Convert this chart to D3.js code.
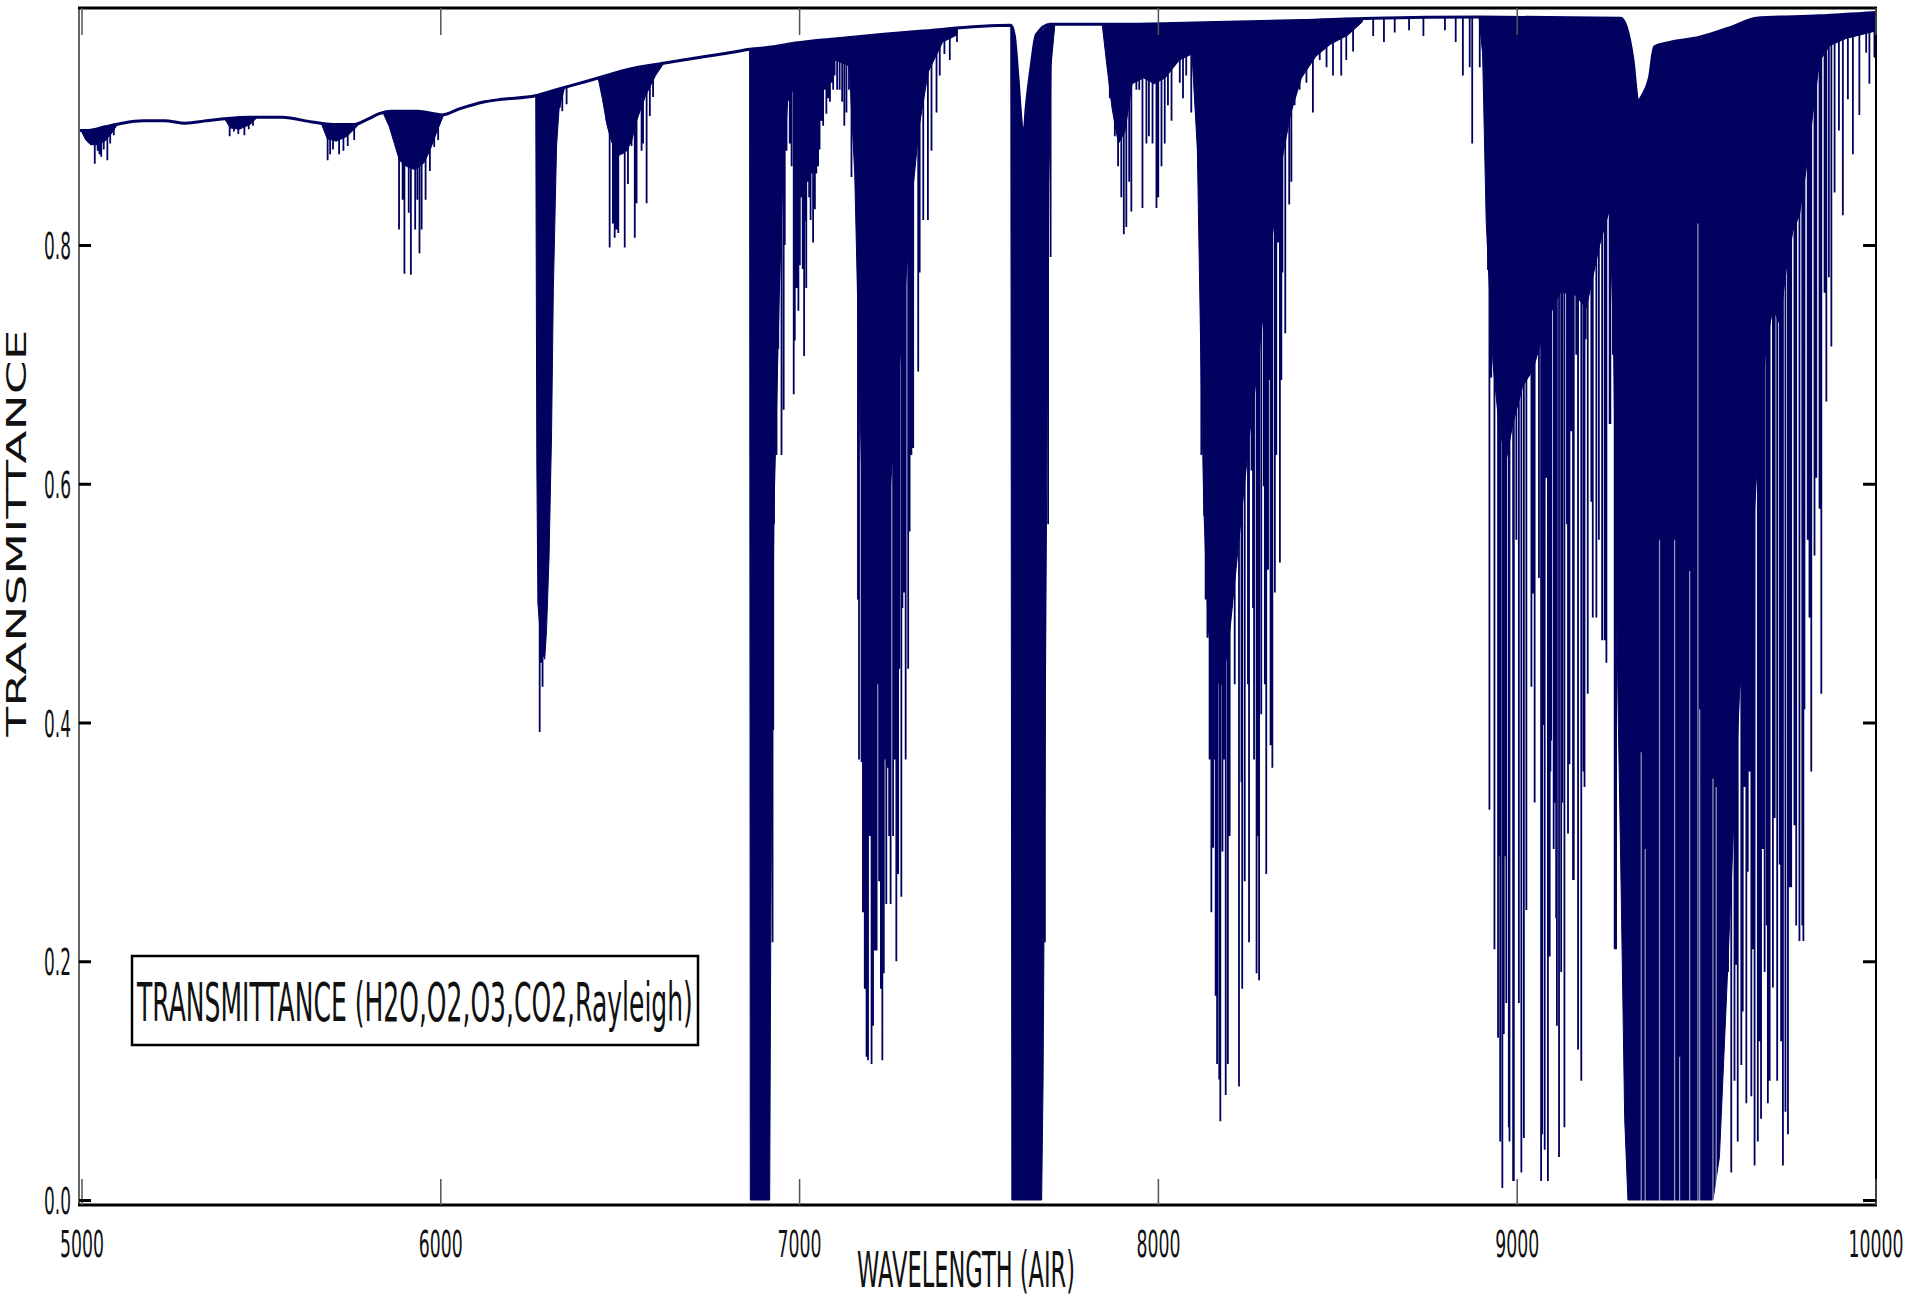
<!DOCTYPE html>
<html>
<head>
<meta charset="utf-8">
<script src="https://cdn.jsdelivr.net/npm/d3@7"></script>
<style>
  html, body { margin: 0; padding: 0; background: #fff; }
  svg { display: block; }
</style>
</head>
<body>
<svg id="chart" width="1909" height="1298"></svg>
<script>
/*
 * Atmospheric transmittance 5000-10000 A
 */

// upper envelope of the spectrum [wavelength, transmittance]
var continuum = [[4993,0.896],[5000,0.896],[5020,0.896],[5066,0.899],[5113,0.902],[5172,0.904],[5231,0.904],
  [5290,0.902],[5348,0.904],[5407,0.906],[5466,0.907],[5560,0.907],[5642,0.903],[5701,0.901],[5760,0.901],
  [5795,0.905],[5830,0.910],[5865,0.912],[5936,0.912],[6006,0.909],[6053,0.914],[6124,0.920],[6171,0.922],
  [6265,0.925],[6323,0.930],[6406,0.937],[6464,0.942],[6523,0.947],[6617,0.952],[6699,0.956],[6805,0.961],
  [6863,0.964],[6930,0.966],[6965,0.968],[7150,0.974],[7336,0.979],[7590,0.984],[7600,0.975],[7610,0.940],
  [7620,0.900],[7626,0.890],[7633,0.915],[7647,0.950],[7661,0.976],[7700,0.985],[7900,0.985],[8100,0.986],
  [8400,0.988],[8600,0.990],[8900,0.991],[9290,0.990],[9305,0.983],[9324,0.955],[9338,0.920],[9350,0.925],
  [9370,0.940],[9384,0.966],[9417,0.969],[9510,0.974],[9603,0.983],[9668,0.990],[9844,0.992],[10010,0.995]];

// lower edge of the solid (blended) part of each band [wavelength, transmittance]
var fill5000 = [[5000,0.895],[5012,0.888],[5025,0.884],[5045,0.884],[5065,0.887],[5085,0.894],[5100,0.901]];
var fill5400 = [[5398,0.906],[5415,0.898],[5440,0.897],[5470,0.901],[5490,0.907]];
var fill5700 = [[5668,0.902],[5685,0.889],[5710,0.887],[5740,0.891],[5770,0.900]];
var fill5900 = [[5840,0.911],[5858,0.899],[5872,0.885],[5886,0.871],[5905,0.866],[5930,0.863],[5955,0.869],
  [5972,0.880],[5988,0.893],[6008,0.908]];
var fill6280 = [[6266,0.925],[6269,0.620],[6272,0.500],[6282,0.461],[6291,0.453],[6296,0.477],[6303,0.538],
  [6310,0.640],[6315,0.762],[6324,0.883],[6331,0.914],[6345,0.930]];
var fill6500 = [[6440,0.940],[6452,0.922],[6465,0.900],[6478,0.886],[6492,0.878],[6506,0.876],[6520,0.879],
  [6534,0.888],[6548,0.905],[6572,0.925],[6600,0.942],[6620,0.951]];
var fill6900 = [[6862,0.964],[6864,0],[6918,0],[6921,0.22],[6925,0.42],[6930,0.58],[6937,0.66],[6945,0.76],
  [6955,0.86],[6968,0.92],[6990,0.935],[7040,0.945],[7100,0.955],[7140,0.950],[7155,0.86],[7165,0.73],
  [7175,0.60],[7185,0.50],[7200,0.46],[7215,0.48],[7235,0.53],[7255,0.60],[7275,0.68],[7295,0.76],
  [7315,0.84],[7335,0.90],[7360,0.945],[7400,0.970],[7440,0.976]];
var fill7600 = [[7590,0.984],[7593,0],[7676,0],[7680,0.10],[7684,0.30],[7690,0.60],[7696,0.85],[7702,0.95],[7712,0.982]];
var fill8200 = [[7845,0.984],[7858,0.950],[7872,0.915],[7890,0.885],[7908,0.895],[7928,0.935],[7960,0.940],
  [7990,0.935],[8020,0.940],[8060,0.955],[8095,0.960],[8110,0.88],[8120,0.70],[8128,0.58],[8140,0.48],
  [8155,0.44],[8175,0.43],[8195,0.46],[8215,0.52],[8235,0.58],[8255,0.64],[8275,0.69],[8300,0.76],
  [8320,0.81],[8345,0.87],[8370,0.91],[8400,0.940],[8440,0.958],[8480,0.968],[8530,0.976],[8570,0.987]];
var fill9400 = [[8895,0.991],[8905,0.960],[8915,0.820],[8934,0.700],[8952,0.645],[8971,0.620],[8989,0.650],
  [9017,0.682],[9045,0.695],[9082,0.734],[9120,0.760],[9157,0.760],[9194,0.747],[9231,0.800],[9259,0.830],
  [9270,0.720],[9282,0.424],[9291,0.262],[9301,0.068],[9310,0],[9547,0],[9565,0.036],[9584,0.165],
  [9602,0.294],[9621,0.424],[9640,0.488],[9658,0.553],[9677,0.650],[9695,0.715],[9714,0.747],[9733,0.734],
  [9751,0.779],[9770,0.812],[9788,0.825],[9807,0.864],[9825,0.909],[9844,0.954],[9872,0.967],[9918,0.973],
  [10010,0.980]];
var fillBands = [fill5000, fill5400, fill5700, fill5900, fill6280, fill6500, fill6900, fill7600, fill8200, fill9400];

// narrow windows seen as pale streaks inside the saturated 9400 band [centre, peak transmittance]
var windows9400 = [[9347,0.375],[9358,0.294],[9398,0.553],[9440,0.553],[9454,0.120],[9482,0.527],
  [9505,0.818],[9510,0.411],[9547,0.353],[9556,0.346]];

// single absorption lines [centre, minimum transmittance]
var lines5000 = [[5025,0.885],[5037,0.868],[5045,0.879],[5050,0.876],[5055,0.874],[5062,0.880],[5072,0.871],
  [5080,0.885],[5090,0.892],[5413,0.891],[5425,0.895],[5437,0.893],[5454,0.892],[5466,0.897],[5478,0.900],
  [5686,0.871],[5693,0.876],[5701,0.880],[5718,0.876],[5730,0.879],[5742,0.883],[5760,0.888]];
var lines5900 = [[5885,0.813],[5895,0.838],[5900,0.776],[5912,0.827],[5918,0.775],[5930,0.813],[5936,0.838],
  [5942,0.793],[5948,0.813],[5959,0.838],[5971,0.862],[5983,0.882],[5994,0.888],
  [6277,0.392],[6280,0.450],[6285,0.430],[6333,0.915],[6340,0.912],[6352,0.918]];
var lines6500 = [[6463,0.904],[6472,0.798],[6481,0.818],[6486,0.806],[6491,0.813],[6496,0.810],[6500,0.875],
  [6505,0.883],[6514,0.798],[6523,0.851],[6533,0.883],[6542,0.806],[6547,0.835],[6561,0.879],[6565,0.885],
  [6575,0.835],[6584,0.908],[6593,0.924]];
var lines6950 = [[6926,0.216],[6928,0.394],[6930,0.566],[6937,0.624],[6942,0.713],[6944,0.764],[6951,0.624],
  [6957,0.662],[6960,0.800],[6965,0.879],[6969,0.955],[6974,0.885],[6979,0.866],[6985,0.675],[6988,0.720],
  [6993,0.764],[6996,0.800],[6998,0.745],[7002,0.783],[7007,0.840],[7010,0.780],[7014,0.707],[7017,0.820],
  [7020,0.764],[7025,0.853],[7028,0.840],[7032,0.821],[7035,0.860],[7039,0.802],[7044,0.830],[7048,0.860],
  [7053,0.866],[7057,0.880],[7062,0.904],[7067,0.900],[7072,0.930],[7076,0.910],[7081,0.923],[7086,0.920],
  [7090,0.936],[7095,0.930],[7099,0.942],[7106,0.930],[7113,0.930],[7120,0.920],[7126,0.900],[7132,0.911],
  [7139,0.930],[7146,0.857],[7155,0.904]];
var lines7200 = [[7164,0.503],[7167,0.369],[7174,0.367],[7178,0.241],[7183,0.177],[7188,0.120],[7192,0.117],
  [7197,0.305],[7202,0.114],[7206,0.146],[7211,0.209],[7216,0.209],[7220,0.432],[7223,0.267],[7228,0.177],
  [7232,0.117],[7236,0.190],[7241,0.369],[7243,0.248],[7248,0.362],[7251,0.305],[7255,0.248],[7262,0.305],
  [7267,0.369],[7271,0.200],[7276,0.273],[7279,0.445],[7285,0.254],[7288,0.496],[7292,0.509],[7297,0.369],
  [7304,0.445],[7308,0.560],[7313,0.624],[7318,0.630],[7332,0.694],[7336,0.777],[7346,0.821],[7359,0.821],
  [7369,0.879],[7383,0.911],[7392,0.942],[7405,0.960],[7420,0.955],[7440,0.970],
  [7685,0.216],[7694,0.566],[7701,0.790]];
var lines7950 = [[7866,0.923],[7880,0.891],[7889,0.866],[7898,0.840],[7905,0.809],[7912,0.815],[7920,0.853],
  [7926,0.828],[7940,0.930],[7948,0.930],[7957,0.831],[7968,0.885],[7975,0.891],[7985,0.885],[7996,0.831],
  [8001,0.840],[8010,0.866],[8019,0.885],[8028,0.917],[8038,0.904],[8061,0.936],[8070,0.923],[8079,0.942],
  [8093,0.911]];
var lines8200 = [[8112,0.866],[8121,0.624],[8129,0.573],[8133,0.503],[8138,0.471],[8144,0.369],[8149,0.241],
  [8154,0.295],[8158,0.369],[8161,0.171],[8165,0.114],[8171,0.101],[8174,0.066],[8177,0.432],[8180,0.292],
  [8184,0.369],[8189,0.088],[8195,0.114],[8200,0.305],[8205,0.496],[8210,0.649],[8214,0.432],[8219,0.764],
  [8223,0.560],[8226,0.095],[8233,0.350],[8235,0.177],[8239,0.777],[8242,0.267],[8247,0.700],[8251,0.432],
  [8254,0.216],[8261,0.611],[8265,0.496],[8268,0.369],[8275,0.190],[8279,0.305],[8282,0.184],[8288,0.407],
  [8295,0.598],[8298,0.432],[8302,0.273],[8307,0.528],[8310,0.687],[8314,0.381],[8319,0.362],[8326,0.509],
  [8330,0.624],[8335,0.802],[8340,0.534],[8344,0.687],[8347,0.777],[8355,0.726],[8366,0.834],[8372,0.853],
  [8381,0.917],[8395,0.930],[8414,0.936],[8432,0.911],[8451,0.955],[8470,0.949],[8488,0.942],[8511,0.942],
  [8525,0.955],[8544,0.962],[8600,0.975],[8630,0.970],[8660,0.978],[8700,0.980],[8740,0.975],[8800,0.980],
  [8830,0.970],[8850,0.942],[8869,0.949],[8876,0.885],[8897,0.949],[8915,0.885]];
var lines9100 = [[8920,0.779],[8924,0.327],[8929,0.689],[8938,0.210],[8948,0.136],[8950,0.288],[8954,0.049],
  [8960,0.010],[8964,0.139],[8966,0.288],[8971,0.165],[8978,0.061],[8980,0.049],[8990,0.016],[8992,0.016],
  [8999,0.553],[9006,0.165],[9013,0.023],[9020,0.052],[9027,0.243],[9036,0.741],[9041,0.430],[9045,0.508],
  [9050,0.333],[9062,0.521],[9068,0.016],[9071,0.055],[9076,0.398],[9078,0.042],[9082,0.605],[9087,0.016],
  [9092,0.204],[9094,0.359],[9096,0.385],[9103,0.294],[9106,0.333],[9110,0.236],[9112,0.146],[9118,0.036],
  [9124,0.191],[9127,0.333],[9133,0.061],[9140,0.566],[9143,0.307],[9145,0.372],[9147,0.365],[9152,0.644],
  [9157,0.268],[9159,0.268],[9166,0.708],[9171,0.126],[9180,0.100],[9186,0.359],[9189,0.346],[9192,0.721],
  [9198,0.424],[9208,0.585],[9212,0.488],[9222,0.488],[9229,0.553],[9238,0.469],[9245,0.469],[9250,0.450],
  [9254,0.831],[9259,0.650],[9261,0.650],[9268,0.708],[9273,0.210],[9277,0.210]];
var lines9700 = [[9567,0.262],[9575,0.281],[9582,0.327],[9589,0.191],[9593,0.450],[9598,0.023],[9602,0.340],
  [9607,0.100],[9612,0.197],[9616,0.049],[9626,0.113],[9630,0.158],[9635,0.346],[9640,0.081],[9644,0.275],
  [9649,0.359],[9654,0.087],[9658,0.210],[9663,0.029],[9672,0.049],[9677,0.133],[9681,0.068],[9686,0.294],
  [9691,0.191],[9697,0.230],[9700,0.081],[9705,0.100],[9714,0.178],[9719,0.320],[9726,0.100],[9733,0.281],
  [9737,0.133],[9742,0.029],[9749,0.074],[9756,0.055],[9760,0.262],[9765,0.262],[9774,0.314],[9779,0.230],
  [9788,0.217],[9796,0.230],[9799,0.217],[9802,0.411],[9811,0.553],[9816,0.488],[9821,0.359],[9830,0.540],
  [9835,0.605],[9844,0.579],[9849,0.424],[9858,0.760],[9863,0.669],[9870,0.773],[9877,0.715],[9886,0.844],
  [9898,0.896],[9909,0.825],[9923,0.922],[9937,0.876],[9955,0.909],[9974,0.961],[9983,0.935],[9997,0.957]];
var lineBands = [lines5000, lines5900, lines6500, lines6950, lines7200, lines7950, lines8200, lines9100, lines9700];

var xTicks = [5000, 6000, 7000, 8000, 9000, 10000];
var yTicks = [0.0, 0.2, 0.4, 0.6, 0.8];
var xTitle = 'WAVELENGTH (AIR)';
var yTitle = 'TRANSMITTANCE';
var legendText = 'TRANSMITTANCE (H2O,O2,O3,CO2,Rayleigh)';

var navy = '#01015f';
var font = '"DejaVu Sans", sans-serif';
var svg = d3.select('#chart');

var plotL = 79, plotR = 1876, plotT = 8, plotB = 1205;
var x = d3.scaleLinear().domain([5000, 10000]).range([81.5, 1875.5]);
var y = d3.scaleLinear().domain([0, 0.8]).range([1200, 245]);

/*
 * Transmittance of the continuum at wavelength w
 */
var bisect = d3.bisector(function(d) { return d[0]; }).left;
var contAt = function(w) {
    var i = bisect(continuum, w);
    if (i <= 0) return continuum[0][1];
    if (i >= continuum.length) return continuum[continuum.length-1][1];
    var a = continuum[i-1], b = continuum[i];
    return a[1] + (b[1]-a[1]) * (w-a[0]) / (b[0]-a[0]);
}

/*
 * Squeeze a text horizontally to a given width (the plot uses a condensed face);
 * pre is any transform that has to come before the squeeze
 */
var squeeze = function(node, width, pre) {
    var t = d3.select(node);
    var tx = +t.attr('x') || 0, ty = +t.attr('y') || 0;
    var s = width / node.getComputedTextLength();
    t.attr('x', 0).attr('y', 0)
     .attr('transform', (pre || 'translate(' + tx + ',' + ty + ')') + ' scale(' + s + ',1)');
}

svg.append('clipPath').attr('id', 'plotclip')
    .append('rect')
        .attr('x', plotL).attr('y', plotT)
        .attr('width', plotR-plotL).attr('height', plotB-plotT);

var plot = svg.append('g').attr('clip-path', 'url(#plotclip)');
var line = d3.line().x(function(d) { return x(d[0]); }).y(function(d) { return y(d[1]); });

// solid parts of the bands: continuum on top, lower edge below
fillBands.forEach(function(band) {
    var w0 = band[0][0], w1 = band[band.length-1][0];
    var upper = [[w0, contAt(w0)]]
        .concat(continuum.filter(function(d) { return d[0] > w0 && d[0] < w1; }))
        .concat([[w1, contAt(w1)]]);
    plot.append('path')
        .attr('d', line(upper.concat(band.slice().reverse())) + 'Z')
        .attr('fill', navy)
        .attr('stroke', navy)
        .attr('stroke-width', 1);
});

// pale windows cut into the saturated band, from the floor up to their peak
plot.append('path')
    .attr('d', windows9400.map(function(d) {
        return 'M' + x(d[0]) + ',' + y(-0.01) + 'V' + y(d[1]);
    }).join(''))
    .attr('fill', 'none')
    .attr('stroke', '#fff')
    .attr('stroke-opacity', 0.6)
    .attr('stroke-width', 1.2);

// single lines hanging from the continuum
var allLines = [].concat.apply([], lineBands);
plot.append('path')
    .attr('d', allLines.map(function(d) {
        return 'M' + x(d[0]) + ',' + y(contAt(d[0])) + 'V' + y(d[1]);
    }).join(''))
    .attr('fill', 'none')
    .attr('stroke', navy)
    .attr('stroke-width', 1.8);

plot.append('path')
    .attr('d', line.curve(d3.curveMonotoneX)(continuum))
    .attr('fill', 'none')
    .attr('stroke', navy)
    .attr('stroke-width', 3)
    .attr('stroke-linejoin', 'round');

// frame
svg.append('line').attr('x1', plotL).attr('x2', plotL).attr('y1', plotT).attr('y2', plotB)
    .attr('stroke', '#666').attr('stroke-width', 2);
svg.append('line').attr('x1', plotR).attr('x2', plotR).attr('y1', plotT).attr('y2', plotB)
    .attr('stroke', '#000').attr('stroke-width', 2);
svg.append('line').attr('x1', plotL-1).attr('x2', plotR+1).attr('y1', plotT).attr('y2', plotT)
    .attr('stroke', '#000').attr('stroke-width', 3);
svg.append('line').attr('x1', plotL-1).attr('x2', plotR+1).attr('y1', plotB).attr('y2', plotB)
    .attr('stroke', '#000').attr('stroke-width', 3);

// axes
var gx = svg.append('g').attr('transform', 'translate(0,' + plotB + ')')
    .call(d3.axisBottom(x).tickValues(xTicks).tickSize(-26).tickFormat(d3.format('d')));
var gxt = svg.append('g').attr('transform', 'translate(0,' + plotT + ')')
    .call(d3.axisTop(x).tickValues(xTicks).tickSize(-27).tickFormat(''));
var gy = svg.append('g').attr('transform', 'translate(' + plotL + ',0)')
    .call(d3.axisLeft(y).tickValues(yTicks).tickSize(-12).tickFormat(d3.format('.1f')));
var gyr = svg.append('g').attr('transform', 'translate(' + plotR + ',0)')
    .call(d3.axisRight(y).tickValues(yTicks).tickSize(-13).tickFormat(''));

[gx, gxt, gy, gyr].forEach(function(g) {
    g.select('.domain').remove();
    g.attr('font-family', font);
});
gx.selectAll('.tick line').attr('stroke', '#555').attr('stroke-width', 1.5);
gxt.selectAll('.tick line').attr('stroke', '#555').attr('stroke-width', 1.5);
gy.selectAll('.tick line').attr('stroke', '#000').attr('stroke-width', 3);
gyr.selectAll('.tick line').attr('stroke', '#000').attr('stroke-width', 3);

gx.selectAll('.tick text')
    .attr('y', 52).attr('dy', 0)
    .attr('font-size', 37)
    .attr('fill', '#111')
    .each(function(d) { squeeze(this, String(d).length * 11); });
gy.selectAll('.tick text')
    .attr('x', -8).attr('dy', '0.36em')
    .attr('font-size', 38)
    .attr('fill', '#111')
    .each(function() { squeeze(this, 27); });

// titles
svg.append('text')
    .attr('x', 966).attr('y', 1287)
    .attr('text-anchor', 'middle')
    .attr('font-family', font)
    .attr('font-size', 50)
    .attr('fill', '#111')
    .text(xTitle)
    .each(function() { squeeze(this, 218); });

svg.append('text')
    .attr('text-anchor', 'middle')
    .attr('font-family', font)
    .attr('font-size', 27)
    .attr('fill', '#111')
    .text(yTitle)
    .each(function() { squeeze(this, 407, 'translate(26,533) rotate(-90)'); });

// legend box
svg.append('rect')
    .attr('x', 132).attr('y', 956)
    .attr('width', 566).attr('height', 89)
    .attr('fill', '#fff')
    .attr('stroke', '#000')
    .attr('stroke-width', 2.5);
svg.append('text')
    .attr('x', 137).attr('y', 1021)
    .attr('font-family', font)
    .attr('font-size', 54)
    .attr('fill', '#111')
    .text(legendText)
    .each(function() { squeeze(this, 556); });
</script>
</body>
</html>
